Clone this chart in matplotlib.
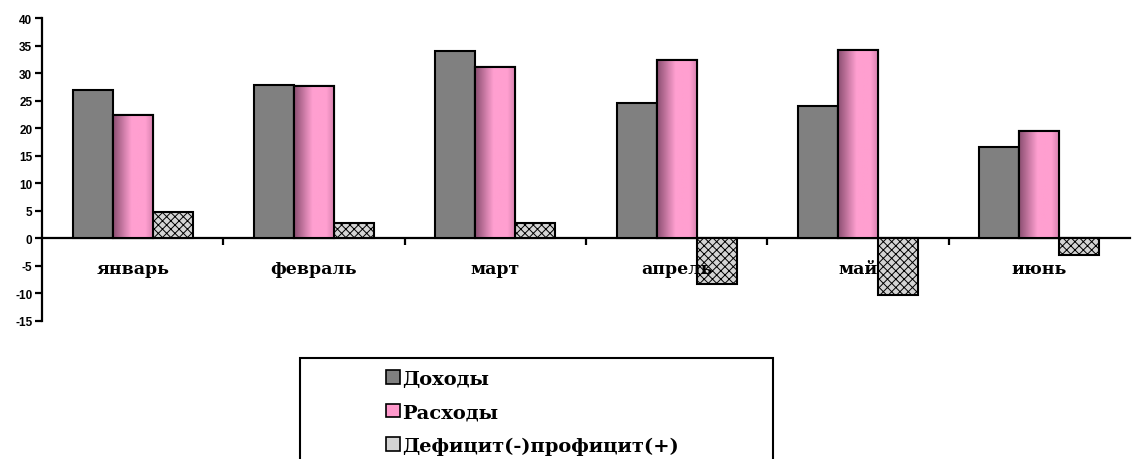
import numpy as np
import matplotlib.pyplot as plt
from matplotlib.patches import Rectangle, Patch
from matplotlib.colors import LinearSegmentedColormap

months = ['январь', 'февраль', 'март', 'апрель', 'май', 'июнь']
dohody = [27.0, 27.9, 34.0, 24.5, 24.1, 16.5]
rashody = [22.4, 27.6, 31.1, 32.4, 34.2, 19.4]
deficit = [4.7, 2.7, 2.7, -8.2, -10.2, -3.0]
series_names = ['Доходы', 'Расходы', 'Дефицит(-)профицит(+)']
yticks = [-15, -10, -5, 0, 5, 10, 15, 20, 25, 30, 35, 40]

plt.rcParams['hatch.color'] = '#8a8a8a'

fig = plt.figure(figsize=(11.34, 4.6), dpi=100)
ax = fig.add_axes([42 / 1134, 138 / 460, 1088 / 1134, 303 / 460])

x = np.arange(len(months))
w = 0.221

b1 = ax.bar(x - w, dohody, w, color='#808080', edgecolor='black', linewidth=1.5, zorder=3)
b2 = ax.bar(x, rashody, w, color='#ff99cc', edgecolor='black', linewidth=1.5, zorder=3)
b3 = ax.bar(x + w, deficit, w, color='#d4d4d4', edgecolor='black', linewidth=1.5,
            hatch='xxxx', zorder=3)
for p in b3:
    p.set_hatch_linewidth(0.7)

# pink bars: gradient fill like the original
pink = LinearSegmentedColormap.from_list('pink', [
    (0.0, '#8c4f72'), (0.45, '#ff9fd0'), (0.8, '#ff9fd0'), (1.0, '#d680ad')])
grad = np.linspace(0, 1, 64).reshape(1, -1)
for p in b2:
    x0, y0 = p.get_x(), p.get_y()
    im = ax.imshow(grad, cmap=pink, aspect='auto', zorder=3.5,
                   extent=(x0, x0 + p.get_width(), y0, y0 + p.get_height()))
    im.set_clip_path(p)
    ov = Rectangle((x0, y0), p.get_width(), p.get_height(), fill=False,
                   edgecolor='black', linewidth=1.5, zorder=4)
    ax.add_patch(ov)

ax.set_xlim(-0.5, 5.5)
ax.set_ylim(-15, 40)
ax.set_yticks(yticks)
ax.set_yticklabels([str(t) for t in yticks], fontfamily='Liberation Sans',
                   fontweight='bold', fontsize=8.5)

ax.spines['top'].set_visible(False)
ax.spines['right'].set_visible(False)
ax.spines['bottom'].set_position(('data', 0))
ax.spines['left'].set_linewidth(1.6)
ax.spines['bottom'].set_linewidth(1.6)

# month names sit under the zero line, drawn over the bars
ax.set_xticks(np.arange(0.5, 5.5, 1))
ax.set_xticklabels([])
ax.tick_params(axis='x', length=5, width=1.6, direction='out')
ax.tick_params(axis='y', length=5, width=1.6, direction='out', pad=2)
for i, m in enumerate(months):
    ax.text(i, -6.2, m, ha='center', va='baseline', zorder=5,
            fontfamily='DejaVu Serif', fontweight='bold', fontsize=12.5)

# legend frame extends past the bottom edge
fig.patches.append(Rectangle((300 / 1134, -0.1), 473 / 1134, 0.1 + 101 / 460,
                             transform=fig.transFigure, fill=False,
                             edgecolor='black', linewidth=1.5))
handles = [Patch(facecolor='#808080', edgecolor='black', linewidth=1.2),
           Patch(facecolor='#ff99cc', edgecolor='black', linewidth=1.2),
           Patch(facecolor='#d4d4d4', edgecolor='black', linewidth=1.2)]
fig.legend(handles, series_names, loc='upper left',
           bbox_to_anchor=(386 / 1134, (460 - 371) / 460), frameon=False,
           prop={'family': 'DejaVu Serif', 'weight': 'bold', 'size': 14},
           handlelength=0.7, handleheight=0.7, handletextpad=0.15,
           labelspacing=0.78, borderpad=0, borderaxespad=0)

fig.savefig('out.png', dpi=100)
